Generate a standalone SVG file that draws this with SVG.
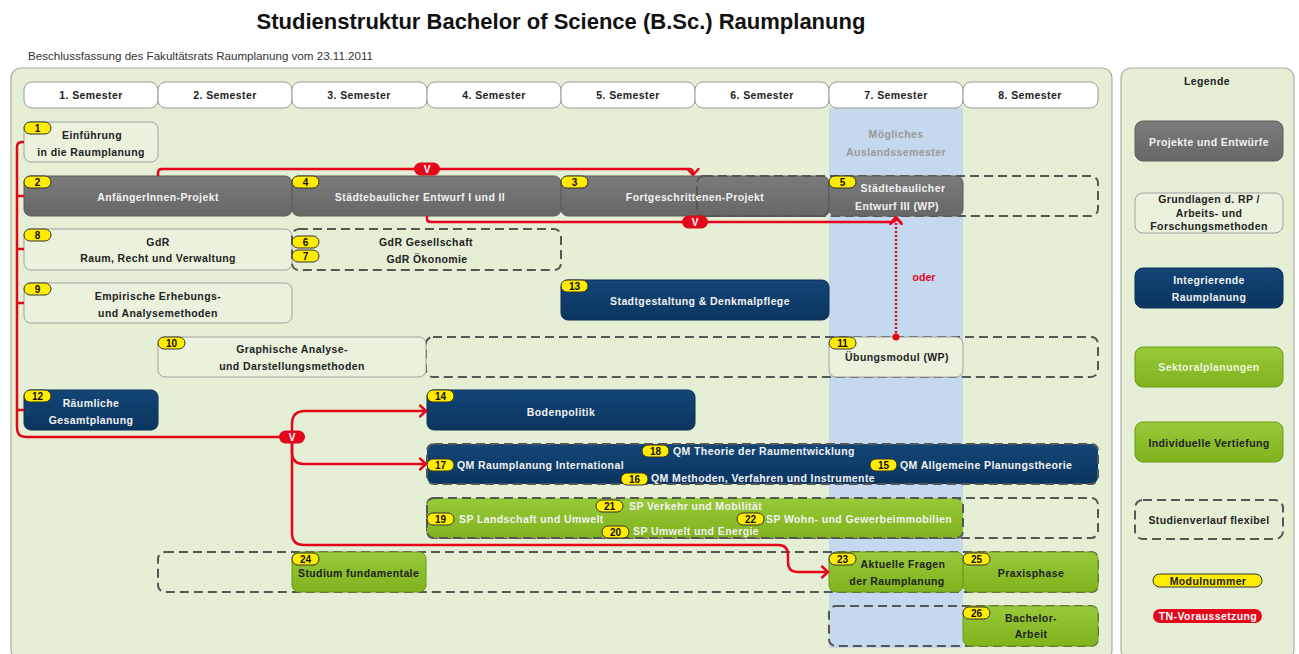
<svg xmlns="http://www.w3.org/2000/svg" width="1299" height="654" viewBox="0 0 1299 654">
<defs>
<linearGradient id="gGray" x1="0" y1="0" x2="0" y2="1"><stop offset="0" stop-color="#7b7b7b"/><stop offset="1" stop-color="#676767"/></linearGradient>
<linearGradient id="gBlue" x1="0" y1="0" x2="0" y2="1"><stop offset="0" stop-color="#134676"/><stop offset="1" stop-color="#0a3560"/></linearGradient>
<linearGradient id="gGreen" x1="0" y1="0" x2="0" y2="1"><stop offset="0" stop-color="#98c93a"/><stop offset="1" stop-color="#80b31d"/></linearGradient>
<marker id="arr" viewBox="0 0 9 14" refX="7.5" refY="7" markerWidth="9" markerHeight="14" markerUnits="userSpaceOnUse" orient="auto"><path d="M1.5,1.5 L7.5,7 L1.5,12.5" fill="none" stroke="#e4061b" stroke-width="2.4" stroke-linecap="round" stroke-linejoin="round"/></marker>
<style>
.t{font-family:"Liberation Sans",Arial,sans-serif;font-weight:bold;font-size:10.5px;letter-spacing:0.4px;text-anchor:middle;fill:#222}
.st{text-anchor:start}
.lt{fill:#f2f2f2}
.gt{fill:#9a9a9a}
.hdr{fill:#fff;stroke:#9a9a9a;stroke-width:1}
.wbox{fill:#eaf2de;stroke:#a0a0a0;stroke-width:1}
.gbox{fill:url(#gGray);stroke:#5c5c5c;stroke-width:1}
.bbox{fill:url(#gBlue);stroke:#0a2f55;stroke-width:1}
.grbox{fill:url(#gGreen);stroke:#6b9818;stroke-width:1}
.dash{fill:none;stroke:#565656;stroke-width:2;stroke-dasharray:9 5}
.bdg{fill:#ffec00;stroke:#333;stroke-width:1}
.bn{font-family:"Liberation Sans",Arial,sans-serif;font-weight:bold;font-size:10px;text-anchor:middle;fill:#111}
.conn{fill:none;stroke:#e4061b;stroke-width:2.5}
.dot{fill:none;stroke:#e4061b;stroke-width:2.5;stroke-dasharray:2 2}
.vp{fill:#e4061b}
.vt{font-family:"Liberation Sans",Arial,sans-serif;font-weight:bold;font-size:10px;text-anchor:middle;fill:#fff}
</style>
</defs>

<text x="561" y="29" style="font-family:'Liberation Sans',Arial,sans-serif;font-weight:bold;font-size:22px;text-anchor:middle;fill:#111">Studienstruktur Bachelor of Science (B.Sc.) Raumplanung</text>
<text x="28" y="60" style="font-family:'Liberation Sans',Arial,sans-serif;font-size:11.6px;fill:#333">Beschlussfassung des Fakultätsrats Raumplanung vom 23.11.2011</text>

<rect x="11" y="68" width="1101" height="592" rx="10" fill="#e5efd5" stroke="#a9b0a0" stroke-width="1.2"/>
<rect x="1121" y="68" width="173" height="592" rx="10" fill="#e5efd5" stroke="#a9b0a0" stroke-width="1.2"/>

<rect x="829" y="108" width="134" height="540" fill="#c5d8ee"/>
<text class="t gt" x="896" y="138">Mögliches</text>
<text class="t gt" x="896" y="156">Auslandssemester</text>

<g id="semester">
<rect class="hdr" x="24" y="82" width="134" height="26" rx="8"/><text class="t" x="91" y="99">1. Semester</text>
<rect class="hdr" x="158" y="82" width="134" height="26" rx="8"/><text class="t" x="225" y="99">2. Semester</text>
<rect class="hdr" x="292" y="82" width="135" height="26" rx="8"/><text class="t" x="359" y="99">3. Semester</text>
<rect class="hdr" x="427" y="82" width="134" height="26" rx="8"/><text class="t" x="494" y="99">4. Semester</text>
<rect class="hdr" x="561" y="82" width="134" height="26" rx="8"/><text class="t" x="628" y="99">5. Semester</text>
<rect class="hdr" x="695" y="82" width="134" height="26" rx="8"/><text class="t" x="762" y="99">6. Semester</text>
<rect class="hdr" x="829" y="82" width="134" height="26" rx="8"/><text class="t" x="896" y="99">7. Semester</text>
<rect class="hdr" x="963" y="82" width="135" height="26" rx="8"/><text class="t" x="1030" y="99">8. Semester</text>
</g>

<g id="flex">
<rect class="dash" x="697" y="176" width="401" height="40" rx="7"/>
<rect class="dash" x="426" y="337" width="672" height="40" rx="7"/>
<rect class="dash" x="427" y="498" width="671" height="40" rx="7"/>
<rect class="dash" x="158" y="552" width="940" height="40" rx="7"/>
<rect class="dash" x="829" y="606" width="269" height="40" rx="7"/>
</g>

<g id="m1"><rect class="wbox" x="24" y="122" width="134" height="40" rx="7"/><text class="t" x="92" y="139">Einführung</text><text class="t" x="91" y="156">in die Raumplanung</text><rect class="bdg" x="24" y="122" width="27" height="12" rx="6"/><text class="bn" x="37.5" y="131.5">1</text></g>

<g id="m2"><rect class="gbox" x="24" y="176" width="268" height="40" rx="7"/><text class="t lt" x="158" y="200.5">AnfängerInnen-Projekt</text><rect class="bdg" x="24" y="176" width="27" height="12" rx="6"/><text class="bn" x="37.5" y="185.5">2</text></g>

<g id="m4"><rect class="gbox" x="292" y="176" width="269" height="40" rx="7"/><text class="t lt" x="420" y="200.5">Städtebaulicher Entwurf I und II</text><rect class="bdg" x="292" y="176" width="27" height="12" rx="6"/><text class="bn" x="305.5" y="185.5">4</text></g>

<g id="m3"><rect class="gbox" x="561" y="176" width="268" height="40" rx="7"/><text class="t lt" x="695" y="200.5">Fortgeschrittenen-Projekt</text><rect class="dash" x="697" y="176" width="132" height="40" rx="7"/><rect class="bdg" x="561" y="176" width="27" height="12" rx="6"/><text class="bn" x="574.5" y="185.5">3</text></g>

<g id="m5"><rect class="gbox" x="829" y="176" width="134" height="40" rx="7"/><text class="t lt" x="903" y="192">Städtebaulicher</text><text class="t lt" x="897" y="209.5">Entwurf III (WP)</text><rect class="bdg" x="829" y="176" width="27" height="12" rx="6"/><text class="bn" x="842.5" y="185.5">5</text></g>

<g id="m8"><rect class="wbox" x="24" y="229" width="268" height="41" rx="7"/><text class="t" x="158" y="245.5">GdR</text><text class="t" x="158" y="262">Raum, Recht und Verwaltung</text><rect class="bdg" x="24" y="229" width="27" height="12" rx="6"/><text class="bn" x="37.5" y="238.5">8</text></g>

<g id="m6-7"><rect class="dash" x="292" y="229" width="269" height="41" rx="7"/><text class="t" x="426" y="245.5">GdR Gesellschaft</text><text class="t" x="427" y="262.5">GdR Ökonomie</text><rect class="bdg" x="292" y="236" width="27" height="12" rx="6"/><text class="bn" x="305.5" y="245.5">6</text><rect class="bdg" x="292" y="250" width="27" height="12" rx="6"/><text class="bn" x="305.5" y="259.5">7</text></g>

<g id="m9"><rect class="wbox" x="24" y="283" width="268" height="40" rx="7"/><text class="t" x="158" y="299.5">Empirische Erhebungs-</text><text class="t" x="158" y="316.5">und Analysemethoden</text><rect class="bdg" x="24" y="283" width="27" height="12" rx="6"/><text class="bn" x="37.5" y="292.5">9</text></g>

<g id="m13"><rect class="bbox" x="561" y="280" width="268" height="40" rx="7"/><text class="t lt" x="700" y="304.5">Stadtgestaltung &amp; Denkmalpflege</text><rect class="bdg" x="561" y="280" width="27" height="12" rx="6"/><text class="bn" x="574.5" y="289.5">13</text></g>

<g id="m10"><rect class="wbox" x="158" y="337" width="268" height="40" rx="7"/><text class="t" x="292" y="352.5">Graphische Analyse-</text><text class="t" x="292" y="369.5">und Darstellungsmethoden</text><rect class="bdg" x="158" y="337" width="27" height="12" rx="6"/><text class="bn" x="171.5" y="346.5">10</text></g>

<g id="m11"><rect class="wbox" x="829" y="337" width="134" height="40" rx="7"/><text class="t" x="897" y="360.5">Übungsmodul (WP)</text><rect class="bdg" x="829" y="337" width="27" height="12" rx="6"/><text class="bn" x="842.5" y="346.5">11</text></g>

<g id="m12"><rect class="bbox" x="24" y="390" width="134" height="40" rx="7"/><text class="t lt" x="91" y="406.5">Räumliche</text><text class="t lt" x="91" y="423.5">Gesamtplanung</text><rect class="bdg" x="24" y="390" width="27" height="12" rx="6"/><text class="bn" x="37.5" y="399.5">12</text></g>

<g id="m14"><rect class="bbox" x="427" y="390" width="268" height="40" rx="7"/><text class="t lt" x="561" y="415.5">Bodenpolitik</text><rect class="bdg" x="427" y="390" width="27" height="12" rx="6"/><text class="bn" x="440.5" y="399.5">14</text></g>

<g id="qm"><rect x="427" y="444" width="671" height="40" rx="7" fill="url(#gBlue)" stroke="#565656" stroke-width="2" stroke-dasharray="9 5"/>
<rect class="bdg" x="642" y="445" width="27" height="12" rx="6"/><text class="bn" x="655.5" y="454.5">18</text><text class="t lt st" x="673" y="455">QM Theorie der Raumentwicklung</text>
<rect class="bdg" x="427" y="459" width="27" height="12" rx="6"/><text class="bn" x="440.5" y="468.5">17</text><text class="t lt st" x="457" y="468.5">QM Raumplanung International</text>
<rect class="bdg" x="621" y="473" width="27" height="12" rx="6"/><text class="bn" x="634.5" y="482.5">16</text><text class="t lt st" x="651" y="482">QM Methoden, Verfahren und Instrumente</text>
<rect class="bdg" x="870" y="459" width="27" height="12" rx="6"/><text class="bn" x="883.5" y="468.5">15</text><text class="t lt st" x="900" y="468.5">QM Allgemeine Planungstheorie</text></g>

<g id="sp"><rect x="427" y="498" width="536" height="40" rx="7" fill="url(#gGreen)" stroke="#565656" stroke-width="2" stroke-dasharray="9 5"/>
<rect class="bdg" x="596" y="500" width="27" height="12" rx="6"/><text class="bn" x="609.5" y="509.5">21</text><text class="t lt st" x="629" y="509.5">SP Verkehr und Mobilität</text>
<rect class="bdg" x="427" y="513" width="27" height="12" rx="6"/><text class="bn" x="440.5" y="522.5">19</text><text class="t lt st" x="459" y="522.5">SP Landschaft und Umwelt</text>
<rect class="bdg" x="602" y="526" width="27" height="12" rx="6"/><text class="bn" x="615.5" y="535.5">20</text><text class="t lt st" x="633" y="535">SP Umwelt und Energie</text>
<rect class="bdg" x="737" y="513" width="27" height="12" rx="6"/><text class="bn" x="750.5" y="522.5">22</text><text class="t lt st" x="766" y="522.5">SP Wohn- und Gewerbeimmobilien</text></g>

<g id="m24"><rect class="grbox" x="292" y="552" width="134" height="40" rx="7"/><text class="t st" x="298" y="576.5">Studium fundamentale</text><rect class="bdg" x="292" y="553" width="27" height="12" rx="6"/><text class="bn" x="305.5" y="562.5">24</text></g>

<g id="m23"><rect class="grbox" x="829" y="552" width="134" height="40" rx="7"/><text class="t" x="903" y="567.5">Aktuelle Fragen</text><text class="t" x="897" y="584.5">der Raumplanung</text><rect class="bdg" x="829" y="553" width="27" height="12" rx="6"/><text class="bn" x="842.5" y="562.5">23</text></g>

<g id="m25"><rect class="grbox" x="963" y="552" width="135" height="40" rx="7"/><text class="t" x="1031" y="576.5">Praxisphase</text><rect class="bdg" x="963" y="553" width="27" height="12" rx="6"/><text class="bn" x="976.5" y="562.5">25</text></g>

<g id="m26"><rect class="grbox" x="963" y="606" width="135" height="40" rx="7"/><text class="t" x="1031" y="621.5">Bachelor-</text><text class="t" x="1031" y="638">Arbeit</text><rect class="bdg" x="963" y="607" width="27" height="12" rx="6"/><text class="bn" x="976.5" y="616.5">26</text></g>

<g id="connectors">
<path class="conn" d="M158,176 V173 Q158,169 162,169 H689 Q693,169 693,173 V175" marker-end="url(#arr)"/>
<rect class="vp" x="414" y="162.5" width="26" height="13" rx="6.5"/><text class="vt" x="427" y="173">V</text>
<path class="conn" d="M427,216 V219 Q427,222 431,222 H891 Q896,222 896,218 V217" marker-end="url(#arr)"/>
<rect class="vp" x="682" y="215.5" width="26" height="13" rx="6.5"/><text class="vt" x="695" y="226">V</text>
<path class="dot" d="M896,337 V218" marker-end="url(#arr)"/>
<circle cx="896" cy="337" r="3.5" fill="#e4061b"/>
<text x="924" y="281" style="font-family:'Liberation Sans',Arial,sans-serif;font-weight:bold;font-size:10.5px;text-anchor:middle;fill:#e4061b">oder</text>
<path class="conn" d="M24,142 H22 Q17,142 17,147 V428 Q17,437 26,437 H280"/>
<path class="conn" d="M17,196 H24 M17,249 H24 M17,303 H24 M17,410 H24"/>
<path class="conn" d="M292,437 V424 Q292,411 305,411 H426" marker-end="url(#arr)"/>
<path class="conn" d="M292,437 V452 Q292,464 304,464 H426" marker-end="url(#arr)"/>
<path class="conn" d="M292,437 V533 Q292,545 304,545 H778 Q788,545 788,555 V562 Q788,572 798,572 H828" marker-end="url(#arr)"/>
<rect class="vp" x="279" y="430.5" width="26" height="13" rx="6.5"/><text class="vt" x="292" y="441">V</text>
</g>

<g id="legend">
<text class="t" x="1207" y="84.5">Legende</text>
<rect class="gbox" x="1135" y="121" width="148" height="40" rx="8"/><text class="t lt" x="1209" y="145.5">Projekte und Entwürfe</text>
<rect class="wbox" x="1135" y="193" width="148" height="40" rx="8"/><text class="t" x="1209" y="203">Grundlagen d. RP /</text><text class="t" x="1209" y="216.5">Arbeits- und</text><text class="t" x="1209" y="230">Forschungsmethoden</text>
<rect class="bbox" x="1135" y="268" width="148" height="40" rx="8"/><text class="t lt" x="1209" y="283.5">Integrierende</text><text class="t lt" x="1209" y="300.5">Raumplanung</text>
<rect class="grbox" x="1135" y="347" width="148" height="40" rx="8"/><text class="t" style="fill:#eef5dc" x="1209" y="370.5">Sektoralplanungen</text>
<rect class="grbox" x="1135" y="422" width="148" height="40" rx="8"/><text class="t" x="1209" y="446.5">Individuelle Vertiefung</text>
<rect class="dash" x="1135" y="500" width="148" height="39" rx="8"/><text class="t" x="1209" y="523.5">Studienverlauf flexibel</text>
<rect class="bdg" x="1153" y="574" width="109" height="13" rx="6.5"/><text class="t" x="1208" y="584.5">Modulnummer</text>
<rect class="vp" x="1153" y="609" width="109" height="14" rx="7"/><text class="t" style="fill:#fff" x="1208" y="620">TN-Voraussetzung</text>
</g>
</svg>
